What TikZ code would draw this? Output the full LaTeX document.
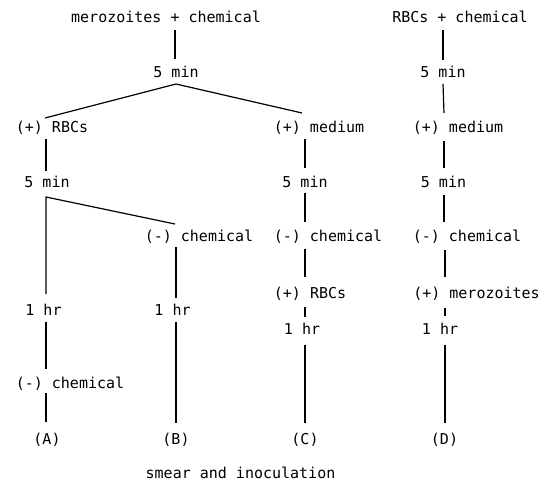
\documentclass[tikz,border=0pt]{standalone}
\usepackage{fontspec}
\newfontfamily\tw{DejaVu Sans Mono}
\usetikzlibrary{calc}
\tikzset{
  lbl/.style={anchor=base, inner sep=0pt, font=\tw\fontsize{15}{18}\selectfont},
  conn/.style={line width=1.2pt, line cap=butt}
}
\begin{document}
\begin{tikzpicture}[x=1pt,y=-1pt]
\useasboundingbox (0,0) rectangle (553,482);
% column A/B tree
\node[lbl] (top1) at (166,22) {merozoites + chemical};
\node[lbl] (m1) at (176,77) {5 min};
\node[lbl] (a1) at (52,132) {(+) RBCs};
\node[lbl] (a2) at (47,187) {5 min};
\node[lbl] (b1) at (199,241) {(-) chemical};
\node[lbl] (a3) at (43.5,315) {1 hr};
\node[lbl] (b2) at (172.5,315) {1 hr};
\node[lbl] (a4) at (70,388) {(-) chemical};
\node[lbl] (A) at (47,444) {(A)};
\node[lbl] (B) at (176,444) {(B)};
\node[lbl] (smear) at (240.5,478) {smear and inoculation};
% column C
\node[lbl] (c1) at (319,132) {(+) medium};
\node[lbl] (c2) at (305,187) {5 min};
\node[lbl] (c3) at (328,241) {(-) chemical};
\node[lbl] (c4) at (310,298) {(+) RBCs};
\node[lbl] (c5) at (302,334) {1 hr};
\node[lbl] (C) at (305,444) {(C)};
% column D
\node[lbl] (top2) at (460,22) {RBCs + chemical};
\node[lbl] (d1) at (443,77) {5 min};
\node[lbl] (d2) at (458,132) {(+) medium};
\node[lbl] (d3) at (443.5,187) {5 min};
\node[lbl] (d4) at (467,241) {(-) chemical};
\node[lbl] (d5) at (476.5,298) {(+) merozoites};
\node[lbl] (d6) at (440,334) {1 hr};
\node[lbl] (D) at (444.5,444) {(D)};
% connectors
\draw[conn] ($(top1.base)+(9,8)$) -- ($(m1.base)+(-1,-18)$);
\draw[conn] ($(a1.base)+(-7,-14)$) -- ($(m1.base)+(0,7)$) -- ($(c1.base)+(-17,-19)$);
\draw[conn] ($(a1.base)+(-6,7)$) -- ($(a2.base)+(-1,-16)$);
\draw[conn] ($(a3.base)+(2.5,-21)$) -- ($(a2.base)+(-1,10)$) -- ($(b1.base)+(-24,-17)$);
\draw[conn] ($(a3.base)+(2.5,7)$) -- ($(a4.base)+(-24,-19)$);
\draw[conn] ($(a4.base)+(-24,5)$) -- ($(A.base)+(-1,-22)$);
\draw[conn] ($(b1.base)+(-23,6)$) -- ($(b2.base)+(3.5,-17)$);
\draw[conn] ($(b2.base)+(3.5,7)$) -- ($(B.base)+(0,-21)$);
\draw[conn] ($(c1.base)+(-14,7)$) -- ($(c2.base)+(0,-19)$);
\draw[conn] ($(c2.base)+(0,6)$) -- ($(c3.base)+(-23,-19)$);
\draw[conn] ($(c3.base)+(-23,8)$) -- ($(c4.base)+(-5,-21)$);
\draw[conn] ($(c4.base)+(-5,9)$) -- ($(c5.base)+(3,-17)$);
\draw[conn] ($(c5.base)+(3,11)$) -- ($(C.base)+(0,-21)$);
\draw[conn] ($(top2.base)+(-17,8)$) -- ($(d1.base)+(0,-17)$);
\draw[conn] ($(d1.base)+(0,7)$) -- ($(d2.base)+(-14,-19)$);
\draw[conn] ($(d2.base)+(-14,9)$) -- ($(d3.base)+(0.5,-19)$);
\draw[conn] ($(d3.base)+(0.5,8)$) -- ($(d4.base)+(-23,-19)$);
\draw[conn] ($(d4.base)+(-22,9)$) -- ($(d5.base)+(-31.5,-21)$);
\draw[conn] ($(d5.base)+(-31.5,10)$) -- ($(d6.base)+(5,-18)$);
\draw[conn] ($(d6.base)+(5,11)$) -- ($(D.base)+(0.5,-21)$);
\end{tikzpicture}
\end{document}
